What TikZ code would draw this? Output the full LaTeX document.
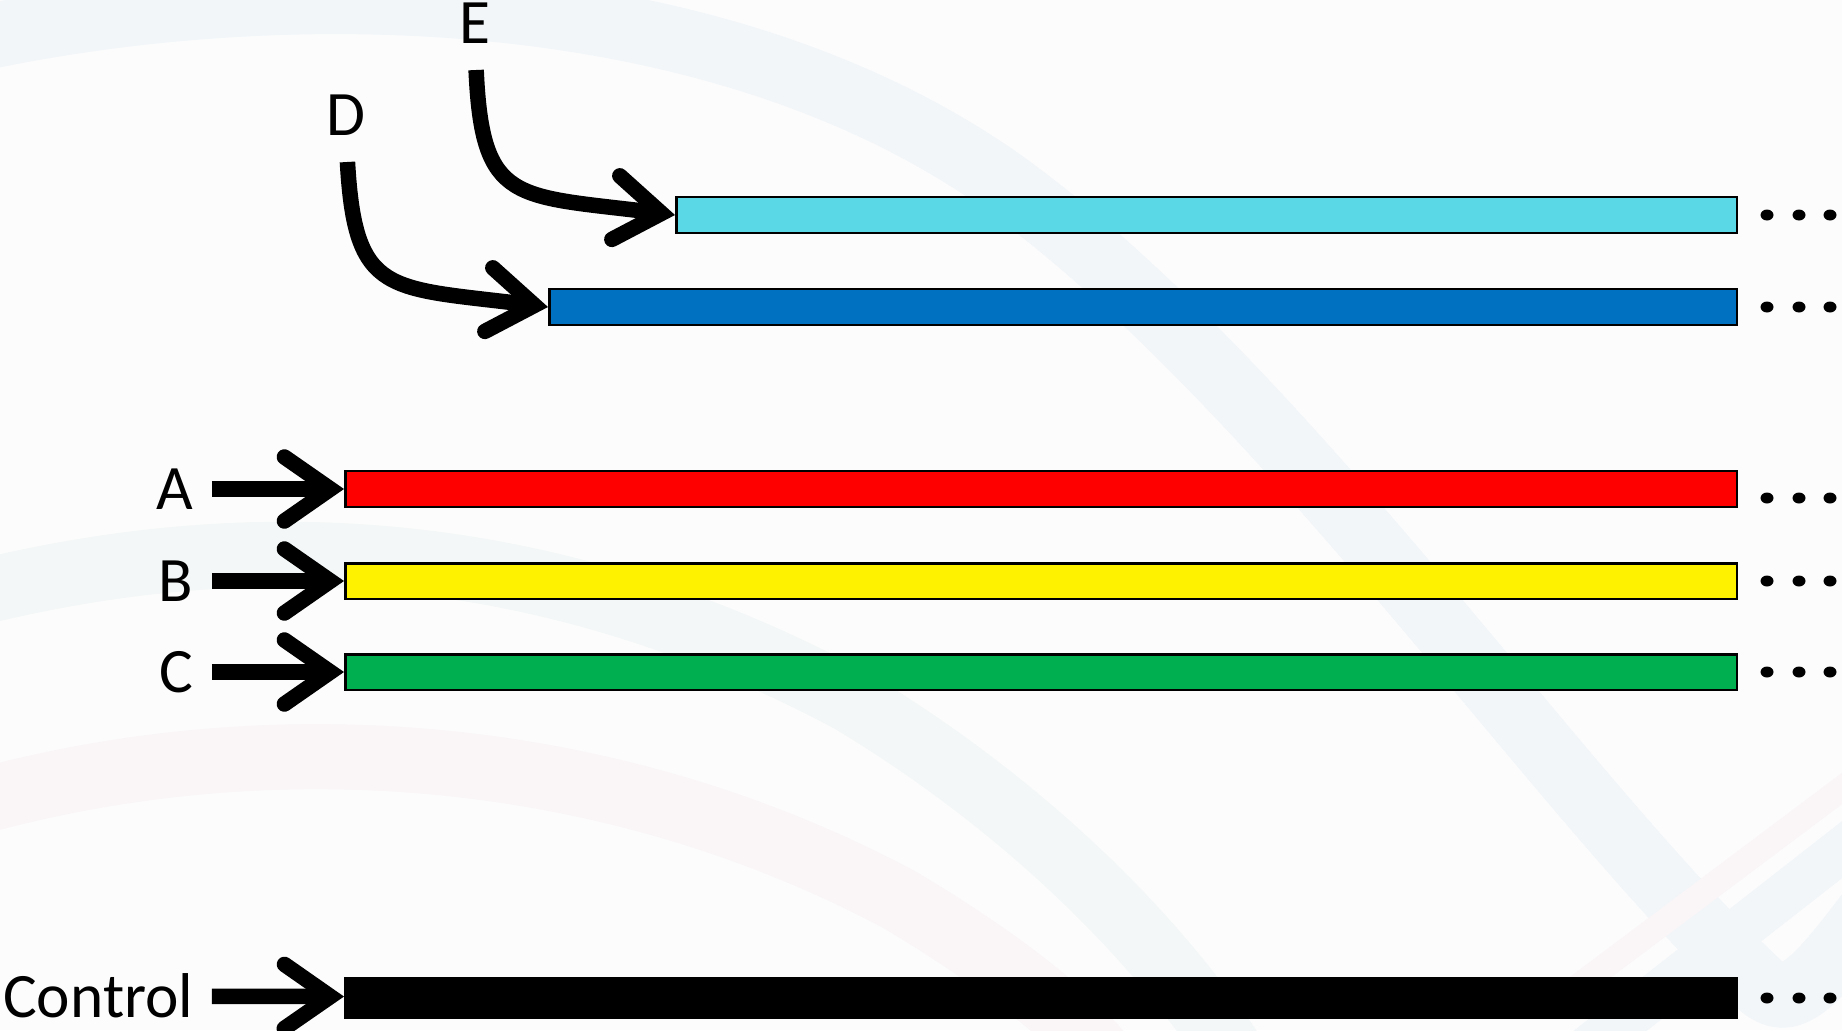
\documentclass[tikz,border=0pt]{standalone}
\usepackage{fontspec}
\setmainfont{Carlito}
\usetikzlibrary{arrows.meta,positioning}

\definecolor{pagebg}{HTML}{FCFCFC}
\definecolor{swooshblue}{HTML}{F2F6F9}
\definecolor{swooshteal}{HTML}{F3F7F7}
\definecolor{swooshpink}{HTML}{FAF5F6}
\definecolor{barcyan}{HTML}{5AD8E6}
\definecolor{barblue}{HTML}{0070C0}
\definecolor{bargreen}{HTML}{00B050}

\tikzset{
  bar/.style={draw=black, line width=0.025cm, minimum height=0.355cm, inner sep=0pt, anchor=west},
  lbl/.style={font=\fontsize{18pt}{20pt}\selectfont, inner sep=0pt},
  feed/.style={line width=0.155cm, -{Straight Barb[length=0.46cm, width=0.64cm, line cap=round]}},
  swoosh/.style={line width=0.65cm, line cap=butt}
}

\begin{document}
\begin{tikzpicture}[x=0.01cm, y=-0.01cm]
  \useasboundingbox (0,0) rectangle (1842,1030);
  \fill[pagebg] (0,0) rectangle (1842,1030);

  % faint background swooshes
  \begin{scope}
    \clip (0,0) rectangle (1842,1030);
    \draw[swoosh, swooshblue] (-50,45) .. controls (250,-25) and (700,-30) .. (1000,180)
      .. controls (1280,380) and (1560,800) .. (1760,985)
      .. controls (1790,1010) and (1810,995) .. (1900,870);
    \draw[swoosh, swooshteal] (-50,600) .. controls (250,520) and (550,540) .. (850,700)
      .. controls (1000,790) and (1150,920) .. (1250,1080);
    \draw[swoosh, swooshpink] (-50,810) .. controls (250,720) and (600,740) .. (900,900)
      .. controls (1000,960) and (1080,1020) .. (1120,1080);
    \draw[swoosh, swooshpink, line width=0.25cm] (1560,1000) -- (1880,760);
    \draw[swoosh, swooshblue, line width=0.45cm] (1560,1070) -- (1880,820);
  \end{scope}

  \begin{scope}
    \node[bar, fill=barcyan, minimum width=10.60cm] (barE) at (675,215) {};
    \node[bar, fill=barblue, minimum width=11.87cm] (barD) at (548,307) {};
    \node[bar, fill=red, minimum width=13.91cm] (barA) at (344,489) {};
    \node[bar, fill=yellow, minimum width=13.91cm] (barB) at (344,581) {};
    \node[bar, fill=bargreen, minimum width=13.91cm] (barC) at (344,672) {};
    \node[bar, fill=black, minimum width=13.91cm, minimum height=0.39cm] (barCtl) at (344,998) {};
  \end{scope}

  \begin{scope}
    \node[lbl] (labE) at (475,23) {E};
    \node[lbl] (labD) at (346,115) {D};
    \node[lbl, left=1.5cm of barA.west] (labA) {A};
    \node[lbl, left=1.5cm of barB.west] (labB) {B};
    \node[lbl, left=1.5cm of barC.west] (labC) {C};
    \node[lbl, left=1.5cm of barCtl.west, yshift=0.02cm] (labCtl) {Control};
  \end{scope}

  \begin{scope}[feed]
    \draw[shorten <=0.26cm] (labE.south) .. controls (482,205) and (515,195) .. (barE.west);
    \draw[shorten <=0.26cm] (labD.south) .. controls (355,297) and (388,287) .. (barD.west);
    \draw[shorten <=0.18cm] (labA) -- (barA);
    \draw[shorten <=0.18cm] (labB) -- (barB);
    \draw[shorten <=0.18cm] (labC) -- (barC);
    \draw[shorten <=0.18cm] (labCtl) -- (barCtl);
  \end{scope}

  % trailing dots
  \foreach \y in {215,307,498,581,672,998}
    \foreach \x in {1767,1799,1830}
      \fill (\x,\y) ellipse [x radius=0.065cm, y radius=0.055cm];
\end{tikzpicture}
\end{document}
